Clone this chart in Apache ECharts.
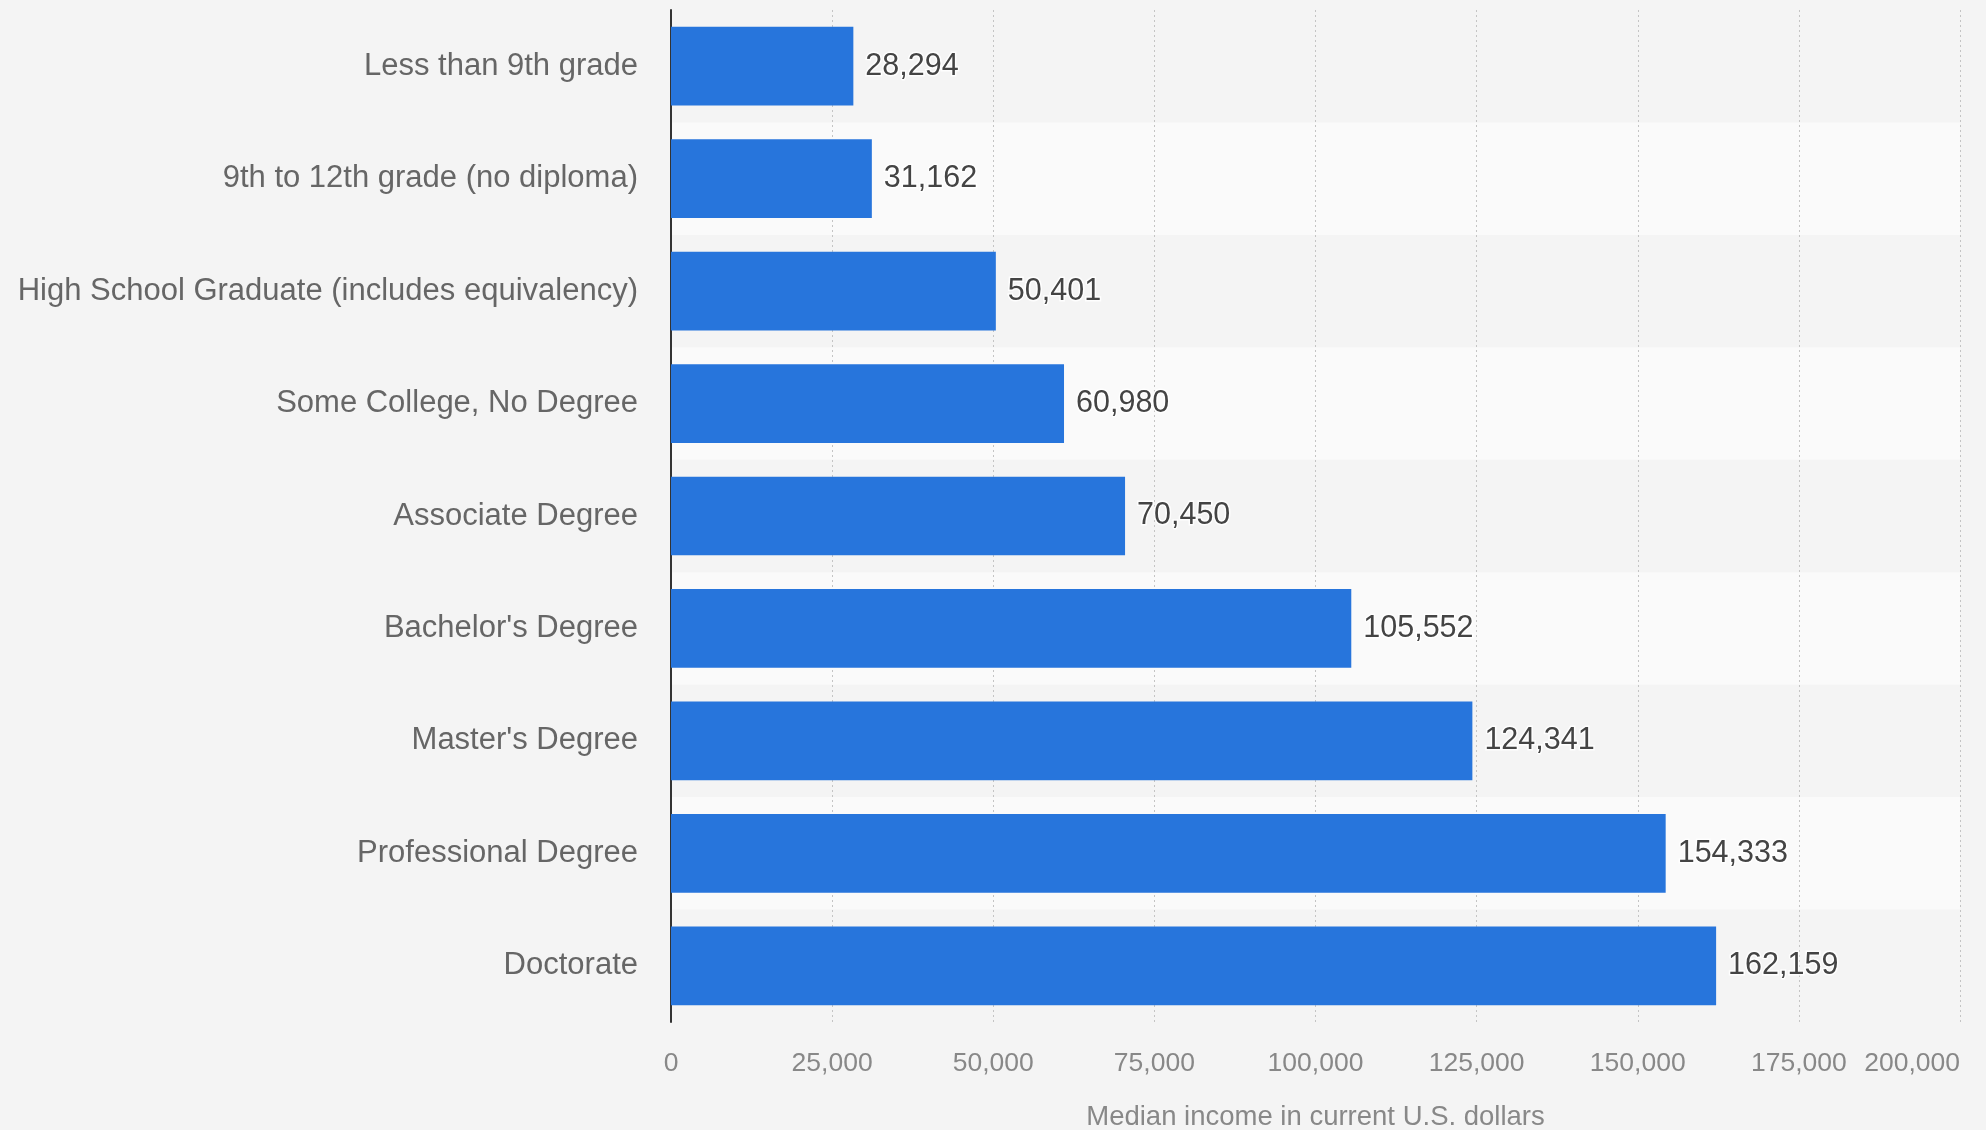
<!DOCTYPE html>
<html>
<head>
<meta charset="utf-8">
<script src="https://cdn.jsdelivr.net/npm/echarts@6/dist/echarts.min.js"></script>
<style>
html,body{margin:0;padding:0;background:#f4f4f4;}
#chart{width:1986px;height:1130px;}
</style>
</head>
<body>
<div id="chart"></div>
<script>
const categories = [
  "Less than 9th grade",
  "9th to 12th grade (no diploma)",
  "High School Graduate (includes equivalency)",
  "Some College, No Degree",
  "Associate Degree",
  "Bachelor's Degree",
  "Master's Degree",
  "Professional Degree",
  "Doctorate"
];
const incomeValues = [28294, 31162, 50401, 60980, 70450, 105552, 124341, 154333, 162159];
const xTickMin = 0;
const xTickMax = 200000;
const xTickStep = 25000;
const axisTitle = "Median income in current U.S. dollars";

const chart = echarts.init(document.getElementById('chart'), null, {renderer: 'canvas'});
const fmt = v => v.toLocaleString('en-US');
const FF = 'Liberation Sans, Arial, sans-serif';
chart.setOption({
  backgroundColor: '#f4f4f4',
  animation: false,
  textStyle: {fontFamily: FF},
  grid: {left: 671, right: 26, top: 10, bottom: 108, containLabel: false, outerBoundsMode: 'none'},
  xAxis: {
    type: 'value',
    min: xTickMin, max: xTickMax, interval: xTickStep,
    name: axisTitle,
    nameLocation: 'middle',
    nameGap: 81,
    nameTextStyle: {color: '#888', fontSize: 27.5, fontFamily: FF},
    axisLine: {show: false},
    axisTick: {show: false},
    axisLabel: {
      color: '#888', fontSize: 26.5, margin: 28,
      fontFamily: FF,
      formatter: v => fmt(v),
      alignMaxLabel: 'right'
    },
    splitLine: {show: true, lineStyle: {color: '#c4c4c4', type: [2, 3], width: 1}}
  },
  yAxis: {
    type: 'category',
    data: categories,
    inverse: true,
    axisLine: {show: true, lineStyle: {color: '#333', width: 2}},
    axisTick: {show: false},
    axisLabel: {color: '#666', fontSize: 31, margin: 33, fontFamily: FF},
    splitLine: {show: false},
    splitArea: {show: true, areaStyle: {color: ['rgba(0,0,0,0)', '#fafafa']}}
  },
  series: [{
    type: 'bar',
    data: incomeValues,
    barCategoryGap: '30%',
    itemStyle: {color: '#2775dc'},
    label: {
      show: true, position: 'right', distance: 12,
      color: '#444', fontSize: 30.5,
      fontFamily: FF,
      textBorderColor: 'rgba(255,255,255,0.85)', textBorderWidth: 3,
      formatter: p => fmt(p.value)
    }
  }]
});
</script>
</body>
</html>
